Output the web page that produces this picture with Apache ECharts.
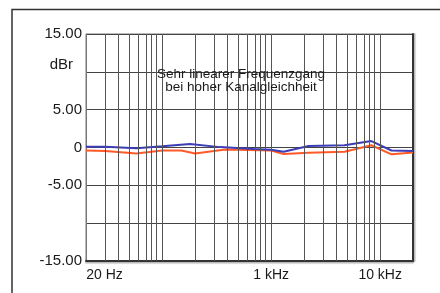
<!DOCTYPE html>
<html>
<head>
<meta charset="utf-8">
<script src="https://cdn.jsdelivr.net/npm/echarts@6/dist/echarts.min.js"></script>
<style>
html,body{margin:0;padding:0;background:#fff;}
#c{width:440px;height:293px;}
</style>
</head>
<body>
<div id="c"></div>
<script>
// ---- data ----
const blueFreqs = [20, 30, 58, 100, 180, 340, 700, 1000, 1300, 2200, 4700, 8300, 12700, 20000];
const blueDb    = [0.1, 0.1, -0.1, 0.15, 0.45, 0.05, -0.2, -0.3, -0.55, 0.2, 0.3, 0.85, -0.4, -0.45];
const orangeFreqs = [20, 30, 58, 100, 150, 200, 380, 1000, 1300, 2200, 4700, 8300, 12700, 20000];
const orangeDb    = [-0.4, -0.45, -0.8, -0.4, -0.4, -0.8, -0.25, -0.4, -0.85, -0.7, -0.55, 0.3, -0.9, -0.65];
const gridFreqs = [30, 40, 50, 60, 70, 80, 90, 100, 200, 300, 400, 500, 600, 700, 800, 900,
                   1000, 2000, 3000, 4000, 5000, 6000, 7000, 8000, 9000, 10000];
const xTickFreqs = [20, 1000, 10000];
const xTickLabels = ['20 Hz', '1 kHz', '10 kHz'];
const yTickValues = [15, 10, 5, 0, -5, -10, -15];
const yTickLabels = ['15.00', 'dBr', '5.00', '0', '-5.00', '', '-15.00'];
const annotation = ['Sehr linearer Frequenzgang', 'bei hoher Kanalgleichheit'];

const lg = Math.log10;
const toPts = (fs, vs) => fs.map((f, i) => [lg(f), vs[i]]);

const chart = echarts.init(document.getElementById('c'), null, {renderer: 'canvas'});
const FONT = 'Liberation Sans, Arial, sans-serif';

chart.setOption({
  animation: false,
  backgroundColor: '#fff',
  grid: {left: 86, top: 34, right: 27, bottom: 32, show: true, borderColor: '#777', borderWidth: 1, backgroundColor: 'transparent'},
  graphic: [
    {type: 'rect', shape: {x: 12, y: 9.5, width: 460, height: 320}, style: {fill: 'none', stroke: '#333', lineWidth: 1.5}, z: 0},
    {type: 'text', x: 241, y: 81, z: 10,
     style: {text: annotation.join('\n'), fill: '#1a1a1a', font: '13.5px ' + FONT, textAlign: 'center', textVerticalAlign: 'middle', lineHeight: 13}}
  ],
  xAxis: [{
    type: 'value', min: lg(20), max: lg(20000),
    axisLine: {show: true, onZero: false, lineStyle: {color: '#333', width: 2, shadowColor: 'rgba(0,0,0,0.3)', shadowOffsetY: 1.5, shadowBlur: 1}},
    axisTick: {show: false},
    splitLine: {show: false},
    axisLabel: {
      customValues: xTickFreqs.map(lg),
      hideOverlap: false,
      margin: 7,
      color: '#1a1a1a', fontFamily: FONT, fontSize: 14,
      formatter: (v) => {
        const i = xTickFreqs.findIndex(f => Math.abs(lg(f) - v) < 1e-6);
        if (i < 0) return '';
        return i === 0 ? '{a|' + xTickLabels[i] + '}' : xTickLabels[i];
      },
      rich: {a: {padding: [0, 0, 0, 37], fontSize: 14, fontFamily: FONT, color: '#1a1a1a'}}
    }
  }],
  yAxis: [{
    type: 'value', min: -15, max: 15, interval: 5,
    axisLine: {show: true, lineStyle: {color: '#777', width: 1}},
    axisTick: {show: false},
    splitLine: {show: true, lineStyle: {color: '#444', width: 1}},
    axisLabel: {
      margin: 4, color: '#1a1a1a', fontFamily: FONT, fontSize: 15,
      formatter: (v) => {
        const i = yTickValues.indexOf(v);
        if (i < 0) return '';
        const t = yTickLabels[i];
        return t === 'dBr' ? '{d|dBr}' : t;
      },
      rich: {d: {padding: [0, 9, 13, 0], fontSize: 15, fontFamily: FONT, color: '#1a1a1a'}}
    }
  }, {
    type: 'value', min: -15, max: 15, interval: 5, position: 'right',
    axisLine: {show: true, lineStyle: {color: '#333', width: 2, shadowColor: 'rgba(0,0,0,0.3)', shadowOffsetX: 1.5, shadowBlur: 1}},
    axisTick: {show: false}, axisLabel: {show: false}, splitLine: {show: false}
  }],
  series: [
    {
      type: 'line', data: [], z: 1, silent: true,
      markLine: {
        silent: true, symbol: 'none', animation: false,
        label: {show: false},
        lineStyle: {color: '#555', width: 1, type: 'solid'},
        data: gridFreqs.map(f => ({xAxis: lg(f)}))
      }
    },
    {
      name: 'R', type: 'line', data: toPts(orangeFreqs, orangeDb), z: 3,
      showSymbol: false, lineStyle: {color: '#ff5a28', width: 2}, itemStyle: {color: '#ff5a28'}
    },
    {
      name: 'L', type: 'line', data: toPts(blueFreqs, blueDb), z: 4,
      showSymbol: false, lineStyle: {color: '#3c3cb4', width: 2}, itemStyle: {color: '#3c3cb4'}
    }
  ]
});
</script>
</body>
</html>
